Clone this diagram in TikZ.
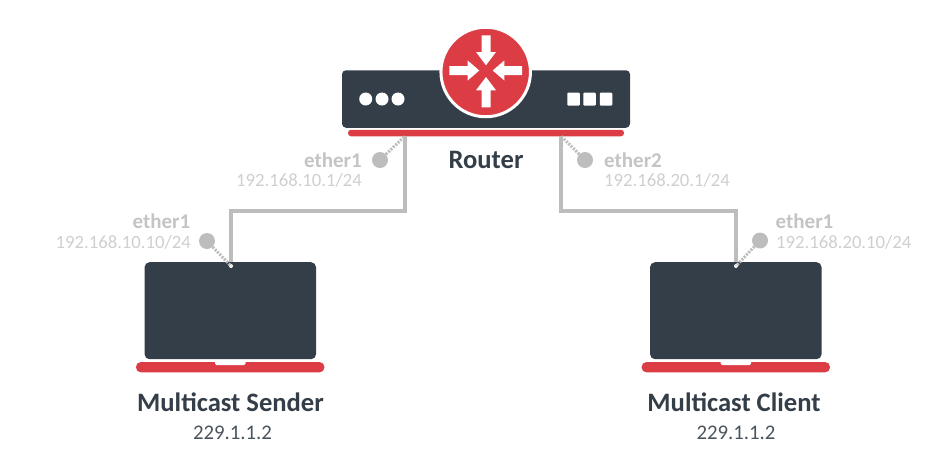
\documentclass[tikz,border=0pt]{standalone}
\usepackage{fontspec}
\setmainfont{Carlito}
\definecolor{dark}{HTML}{333E48}
\definecolor{redc}{HTML}{DC3C44}
\definecolor{wire}{HTML}{BDBDBD}
\definecolor{lbl}{HTML}{C4C4C4}
\definecolor{lbllight}{HTML}{CFCFCF}
\definecolor{addr}{HTML}{4A545D}
\tikzset{
 x=1pt,y=-1pt,
 wirepath/.style={draw=wire,line width=3.2pt,line join=miter},
 dotpath/.style={draw=wire,line width=3pt,dash pattern=on 2pt off 1.3pt},
 ifdot/.style={circle,fill=wire,minimum size=16pt,inner sep=0pt},
 portlbl/.style={text=lbllight,font=\fontsize{18.7}{20}\selectfont,inner sep=0pt},
 etherlbl/.style={text=lbl,font=\fontsize{21}{22}\selectfont\bfseries,inner sep=0pt},
 titlelbl/.style={text=dark,font=\fontsize{26.6}{28}\selectfont\bfseries,inner sep=0pt},
 addrlbl/.style={text=addr,font=\fontsize{20.8}{22}\selectfont,inner sep=0pt},
 ledc/.style={circle,fill=white,minimum size=13pt,inner sep=0pt},
 leds/.style={rectangle,rounded corners=1pt,fill=white,minimum width=12.5pt,minimum height=13pt,inner sep=0pt},
 screenbox/.style={rectangle,rounded corners=5pt,fill=dark,minimum width=171.5pt,minimum height=97pt,inner sep=0pt},
 basebar/.style={rectangle,rounded corners=5pt,fill=redc,minimum width=188.5pt,minimum height=10.4pt,inner sep=0pt},
 jack/.style={circle,fill=white,minimum size=4pt,inner sep=0pt},
 whitearrow/.style={fill=white,draw=none},
}
\begin{document}
\begin{tikzpicture}
\useasboundingbox (0,0) rectangle (950,475);
% router
\node[rectangle,rounded corners=4pt,fill=dark,minimum width=288pt,minimum height=57.5pt,inner sep=0pt] (rbody) at (486,99) {};
\node[rectangle,rounded corners=3pt,fill=redc,minimum width=276pt,minimum height=6.5pt,inner sep=0pt] (rbar) at (486,133) {};
% wires
\coordinate (rl) at (405,136);
\coordinate (rr) at (561,136);
\coordinate (sj) at (231,266);
\coordinate (cj) at (736,266);
\draw[wirepath] (rl) -- ++(0,75) -| (sj);
\draw[wirepath] (rr) -- ++(0,75) -| (cj);
% laptops
\node[screenbox] (sender) at (230.3,310.7) {};
\node[basebar] (sbase) at (230.2,367.2) {};
\fill[white,rounded corners=1.5pt] (215,360) rectangle (245.7,365);
\node[screenbox] (client) at (735.8,310.7) {};
\node[basebar] (cbase) at (735.8,367.2) {};
\fill[white,rounded corners=1.5pt] (720.7,360) rectangle (751,365);
\node[jack] (sjack) at (sj) {};
\node[jack] (cjack) at (cj) {};
% interface dots
\node[ifdot] (d1) at (380,160) {};
\node[ifdot] (d2) at (585,160) {};
\node[ifdot] (d3) at (207,241) {};
\node[ifdot] (d4) at (760,240.5) {};
\draw[dotpath] (d1) -- (rl);
\draw[dotpath] (d2) -- (rr);
\draw[dotpath] (d3) -- (sj);
\draw[dotpath] (d4) -- (cj);
% router badge
\node[circle,fill=redc,draw=white,line width=3pt,minimum size=89.5pt,inner sep=0pt] (badge) at (485.7,72) {};
\fill[whitearrow] (481.5,35.3) -- (490.5,35.3) -- (490.5,52) -- (496,52) -- (486,65.3) -- (476,52) -- (481.5,52) -- cycle;
\fill[whitearrow] (481.5,107.3) -- (490.5,107.3) -- (490.5,90.3) -- (496,90.3) -- (486,77) -- (476,90.3) -- (481.5,90.3) -- cycle;
\fill[whitearrow] (449.3,66) -- (449.3,75) -- (467.7,75) -- (467.7,80.5) -- (479.3,70.5) -- (467.7,60.5) -- (467.7,66) -- cycle;
\fill[whitearrow] (522,66) -- (522,75) -- (504.3,75) -- (504.3,80.5) -- (492.7,70.5) -- (504.3,60.5) -- (504.3,66) -- cycle;
\node[ledc] (l1) at (365.7,99) {};
\node[ledc] (l2) at (382,99) {};
\node[ledc] (l3) at (398,99) {};
\node[leds] (s1) at (573.5,99.2) {};
\node[leds] (s2) at (589.5,99.2) {};
\node[leds] (s3) at (606,99.2) {};
% labels
\node[titlelbl] (trouter) at (486,160) {Router};
\node[titlelbl] (tsend) at (230.5,402) {Multicast Sender};
\node[titlelbl] (tclient) at (734,402) {Multicast Client};
\node[addrlbl] (asend) at (232.5,433) {229.1.1.2};
\node[addrlbl] (aclient) at (736,433) {229.1.1.2};
\node[etherlbl,anchor=east] (e1) at (362,160) {ether1};
\node[portlbl,anchor=east] (p1) at (362,180) {192.168.10.1/24};
\node[etherlbl,anchor=west] (e2) at (604,160) {ether2};
\node[portlbl,anchor=west] (p2) at (604,180) {192.168.20.1/24};
\node[etherlbl,anchor=east] (e3) at (190.5,221) {ether1};
\node[portlbl,anchor=east] (p3) at (191,242) {192.168.10.10/24};
\node[etherlbl,anchor=west] (e4) at (775.5,221) {ether1};
\node[portlbl,anchor=west] (p4) at (776,242) {192.168.20.10/24};
\end{tikzpicture}
\end{document}
